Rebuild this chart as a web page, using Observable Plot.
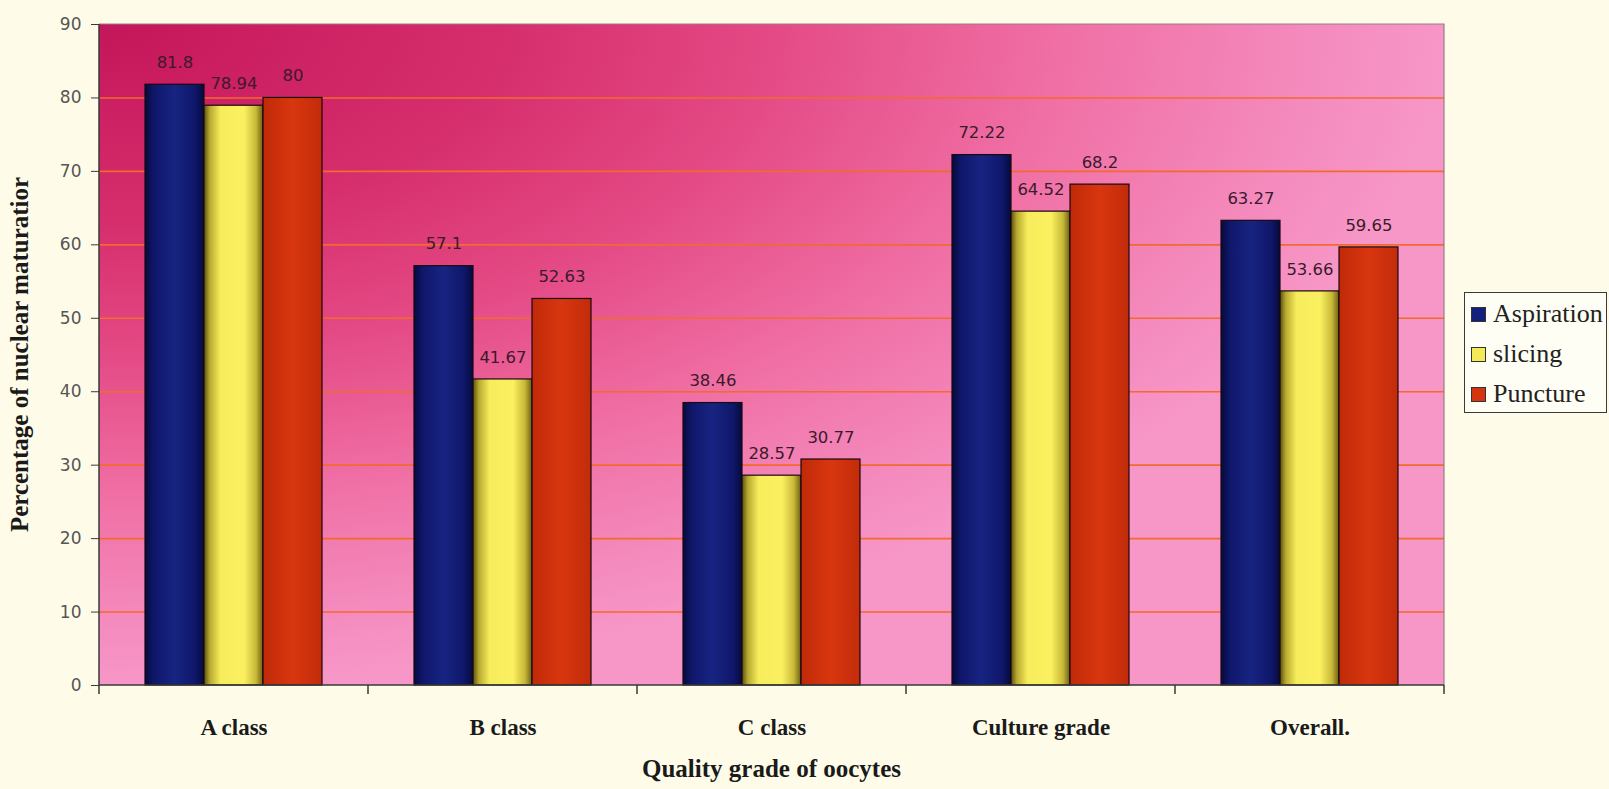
<!DOCTYPE html>
<html>
<head>
<meta charset="utf-8">
<script src="https://cdn.jsdelivr.net/npm/d3@7"></script>
<script src="https://cdn.jsdelivr.net/npm/@observablehq/plot@0.6"></script>
<style>
  html, body { margin: 0; padding: 0; background: #fefce8; }
  #wrap { position: relative; width: 1609px; height: 789px; overflow: hidden; }
  #wrap > svg.chart { position: absolute; left: 0; top: 0; }
  #legend {
    position: absolute; left: 1464px; top: 292px; width: 143px; height: 121px;
    box-sizing: border-box; border: 1px solid #3a3a3a; background: #fffef4;
    font-family: "Liberation Serif", "Times New Roman", serif; font-size: 26px; color: #222;
    padding-top: 1px;
  }
  #legend .row { display: flex; align-items: center; height: 40px; padding-left: 6px; white-space: nowrap; }
  #legend .sw { width: 13px; height: 13px; border: 1px solid #333; margin-right: 7px; flex: none; }
</style>
</head>
<body>
<!-- shared paint servers: plot background and shaded bar fills -->
<svg width="0" height="0" style="position:absolute">
  <defs>
    <radialGradient id="plot-bg" cx="0" cy="0" r="1" fx="0" fy="0">
      <stop offset="0" stop-color="#c4165a"/>
      <stop offset="0.3" stop-color="#d62e6c"/>
      <stop offset="0.5" stop-color="#e44a85"/>
      <stop offset="0.72" stop-color="#f070a5"/>
      <stop offset="0.9" stop-color="#f48abd"/>
      <stop offset="1" stop-color="#f797c7"/>
    </radialGradient>
    <linearGradient id="bar-0" x1="0" x2="1" y1="0" y2="0">
      <stop offset="0" stop-color="#060a3c"/>
      <stop offset="0.15" stop-color="#0f176a"/>
      <stop offset="0.5" stop-color="#172482"/>
      <stop offset="0.85" stop-color="#0f176a"/>
      <stop offset="1" stop-color="#060a3c"/>
    </linearGradient>
    <linearGradient id="bar-1" x1="0" x2="1" y1="0" y2="0">
      <stop offset="0" stop-color="#5a5010"/>
      <stop offset="0.1" stop-color="#b8aa30"/>
      <stop offset="0.28" stop-color="#f6ec5c"/>
      <stop offset="0.68" stop-color="#faf060"/>
      <stop offset="0.88" stop-color="#c8b838"/>
      <stop offset="1" stop-color="#6a5e10"/>
    </linearGradient>
    <linearGradient id="bar-2" x1="0" x2="1" y1="0" y2="0">
      <stop offset="0" stop-color="#c02a08"/>
      <stop offset="0.5" stop-color="#d8360f"/>
      <stop offset="1" stop-color="#c22c0a"/>
    </linearGradient>
  </defs>
</svg>
<div id="wrap"></div>
<script>
// Percentage of nuclear maturation by oocyte quality grade and recovery method
const categories = ["A class", "B class", "C class", "Culture grade", "Overall."];
const series = ["Aspiration", "slicing", "Puncture"];
const aspiration = [81.8, 57.1, 38.46, 72.22, 63.27];
const slicing = [78.94, 41.67, 28.57, 64.52, 53.66];
const puncture = [80, 52.63, 30.77, 68.2, 59.65];
const yTicks = [0, 10, 20, 30, 40, 50, 60, 70, 80, 90];
const gridTicks = [10, 20, 30, 40, 50, 60, 70, 80];
const swatchColors = ["#14207e", "#f4ea58", "#d6340e"];
const xTitle = "Quality grade of oocytes";
const yTitle = "Percentage of nuclear maturatior";

const seriesValues = [aspiration, slicing, puncture];
const rows = categories.flatMap((category, i) =>
  series.map((s, j) => ({category, series: s, value: seriesValues[j][i]}))
);

const W = 1609, H = 789;
const margin = {left: 97, right: 164, top: 24, bottom: 104};
const serif = "'Liberation Serif', 'Times New Roman', serif";

const chart = Plot.plot({
  width: W,
  height: H,
  marginLeft: margin.left,
  marginRight: margin.right,
  marginTop: margin.top,
  marginBottom: margin.bottom,
  style: {background: "transparent", overflow: "visible"},
  fx: {domain: categories, padding: 0, label: null, axis: null},
  x: {domain: series, paddingInner: 0, paddingOuter: 0.77, axis: null},
  y: {domain: [0, 90], axis: null, label: null},
  marks: [
    Plot.gridY(gridTicks, {stroke: "#f26a2c", strokeOpacity: 1, strokeWidth: 1.6}),
    ...series.map((s, j) =>
      Plot.barY(rows.filter((d) => d.series === s), {
        fx: "category",
        x: "series",
        y: "value",
        fill: `url(#bar-${j})`,
        stroke: "#1a0810",
        strokeWidth: 1.2
      })
    ),
    Plot.text(rows, {
      fx: "category",
      x: "series",
      y: "value",
      text: (d) => String(d.value),
      dy: -22,
      fill: "#3b1a2a",
      fontFamily: "'DejaVu Sans', sans-serif",
      fontSize: 16.5
    }),
    Plot.axisY({
      ticks: yTicks,
      tickSize: 8,
      tickPadding: 10,
      stroke: "#3a3a3a",
      fill: "#555555",
      fontFamily: "'DejaVu Sans', sans-serif",
      fontSize: 17,
      label: null
    }),
    Plot.axisFx({
      anchor: "bottom",
      tickSize: 0,
      tickPadding: 33,
      fill: "#1a1a1a",
      fontFamily: serif,
      fontWeight: "bold",
      fontSize: 23,
      label: null
    })
  ]
});
chart.classList.add("chart");

// plot-area background, frame, axis lines and category boundary ticks
const fx = chart.scale("fx");
const y = chart.scale("y");
const x0 = fx.apply(categories[0]);
const x1 = fx.apply(categories[categories.length - 1]) + fx.bandwidth;
const yTop = y.apply(90);
const yBottom = y.apply(0);
const svg = d3.select(chart);
const ns = "http://www.w3.org/2000/svg";

const bg = document.createElementNS(ns, "rect");
bg.setAttribute("x", x0);
bg.setAttribute("y", yTop);
bg.setAttribute("width", x1 - x0);
bg.setAttribute("height", yBottom - yTop);
bg.setAttribute("fill", "url(#plot-bg)");
chart.insertBefore(bg, chart.querySelector("g"));

const deco = svg.append("g");
deco.append("path")
  .attr("d", `M${x0},${yTop}H${x1}V${yBottom}`)
  .attr("fill", "none").attr("stroke", "#9a7a88").attr("stroke-width", 1.2);
deco.append("path")
  .attr("d", `M${x0},${yTop}V${yBottom}H${x1}`)
  .attr("fill", "none").attr("stroke", "#3a3a3a").attr("stroke-width", 1.5);
const bounds = categories.map((c) => fx.apply(c)).concat([x1]);
deco.selectAll("line.btick").data(bounds).join("line")
  .attr("x1", (d) => d).attr("x2", (d) => d)
  .attr("y1", yBottom).attr("y2", yBottom + 9)
  .attr("stroke", "#3a3a3a").attr("stroke-width", 1.5);

deco.append("text")
  .attr("x", (x0 + x1) / 2).attr("y", yBottom + 86)
  .attr("text-anchor", "middle").attr("dominant-baseline", "middle")
  .attr("font-family", serif).attr("font-weight", "bold").attr("font-size", 25)
  .attr("fill", "#1a1a1a")
  .text(xTitle);
deco.append("text")
  .attr("transform", `translate(22,${(yTop + yBottom) / 2}) rotate(-90)`)
  .attr("text-anchor", "middle").attr("dominant-baseline", "middle")
  .attr("font-family", serif).attr("font-weight", "bold").attr("font-size", 25)
  .attr("fill", "#1a1a1a")
  .text(yTitle);

const wrap = document.getElementById("wrap");
wrap.appendChild(chart);

// legend
const legend = document.createElement("div");
legend.id = "legend";
series.forEach((s, j) => {
  const row = document.createElement("div");
  row.className = "row";
  const sw = document.createElement("span");
  sw.className = "sw";
  sw.style.background = swatchColors[j];
  const label = document.createElement("span");
  label.textContent = s;
  row.appendChild(sw);
  row.appendChild(label);
  legend.appendChild(row);
});
wrap.appendChild(legend);
</script>
</body>
</html>
